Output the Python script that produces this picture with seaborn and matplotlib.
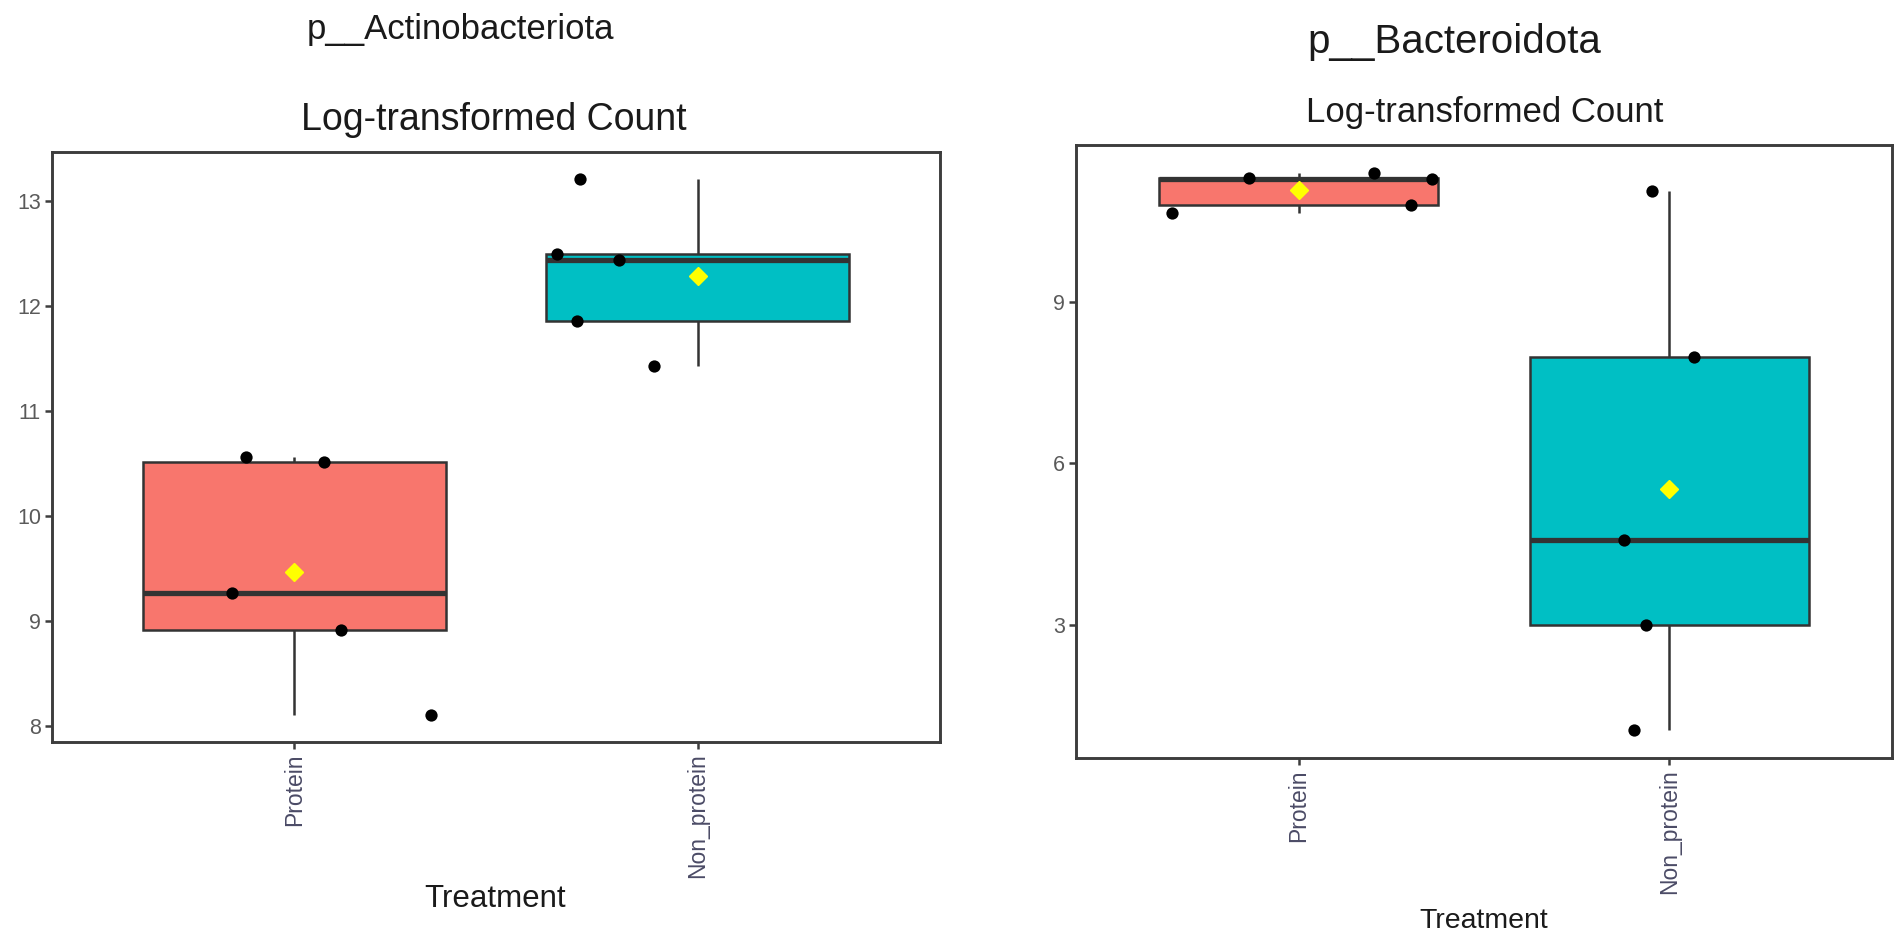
import numpy as np
import pandas as pd
import matplotlib
matplotlib.use("Agg")
import matplotlib.pyplot as plt
import seaborn as sns

# ---------------- data ----------------
categories = ["Protein", "Non_protein"]
box_colors = ["#F8766D", "#00BFC4"]

actino_protein = [10.56, 10.51, 9.26, 8.91, 8.10]
actino_nonprotein = [13.21, 12.49, 12.44, 11.86, 11.43]
bactero_protein = [10.66, 11.31, 11.40, 11.28, 10.80]
bactero_nonprotein = [11.06, 7.98, 4.58, 3.00, 1.04]

# jitter offsets (in category units)
actino_jitter_protein = [-0.12, 0.075, -0.154, 0.115, 0.34]
actino_jitter_nonprotein = [-0.292, -0.348, -0.195, -0.30, -0.109]
bactero_jitter_protein = [-0.34, -0.134, 0.204, 0.359, 0.303]
bactero_jitter_nonprotein = [-0.046, 0.065, -0.122, -0.064, -0.096]

actino_yticks = [8, 9, 10, 11, 12, 13]
bactero_yticks = [3, 6, 9]

panel_titles = ["p__Actinobacteriota", "p__Bacteroidota"]
subtitle = "Log-transformed Count"
xlabel = "Treatment"

# ---------------- style ----------------
sns.set_theme(style="white")
plt.rcParams["font.family"] = ["Liberation Sans", "DejaVu Sans"]

W, H = 1902, 936
fig = plt.figure(figsize=(W / 100, H / 100), dpi=100)
fig.patch.set_facecolor("white")


def px_axes(x0, x1, y0, y1):
    return fig.add_axes([x0 / W, 1 - y1 / H, (x1 - x0) / W, (y1 - y0) / H])


def make_df(prot, nonprot, jp, jn):
    vals = list(prot) + list(nonprot)
    treat = [categories[0]] * len(prot) + [categories[1]] * len(nonprot)
    pos = [categories.index(t) for t in treat]
    jit = list(jp) + list(jn)
    df = pd.DataFrame({"Treatment": treat, "pos": pos, "value": vals})
    df["xj"] = df["pos"] + np.array(jit)
    return df


def draw_panel(ax, df, yticks):
    sns.boxplot(
        data=df, x="pos", y="value", hue="Treatment", hue_order=categories,
        palette=box_colors, native_scale=True, dodge=False, width=0.75,
        whis=(0, 100), showcaps=False, showfliers=False, showmeans=True,
        saturation=1, linecolor="#333333", linewidth=1.8,
        meanprops=dict(marker="D", markerfacecolor="#FFFF00",
                       markeredgecolor="#FFFF00", markersize=9.5),
        medianprops=dict(linewidth=3.8, color="#333333"),
        legend=False, ax=ax,
    )
    sns.scatterplot(data=df, x="xj", y="value", color="black", s=78,
                    linewidth=0, legend=False, ax=ax, zorder=5)
    ax.set_xlim(-0.6, 1.6)
    lo, hi = df["value"].min(), df["value"].max()
    r = hi - lo
    ax.set_ylim(lo - 0.05 * r, hi + 0.05 * r)
    ax.set_xticks(range(len(categories)))
    ax.set_xticklabels(categories, rotation=90, fontsize=16.5, color="#4b4b66",
                       va="top", ha="center")
    ax.set_yticks(yticks)
    ax.set_yticklabels([str(t) for t in yticks], fontsize=15.5, color="#5a5a5a")
    ax.set_xlabel("")
    ax.set_ylabel("")
    for s in ax.spines.values():
        s.set_visible(True)
        s.set_color("#3d3d3d")
        s.set_linewidth(2.1)
    ax.tick_params(axis="both", direction="out", length=5, width=1.8,
                   color="#3d3d3d", pad=3, bottom=True, left=True)
    ax.grid(False)


ax1 = px_axes(52, 940, 152, 742)
draw_panel(ax1, make_df(actino_protein, actino_nonprotein,
                        actino_jitter_protein, actino_jitter_nonprotein),
           actino_yticks)

ax2 = px_axes(1076, 1892, 145, 758)
draw_panel(ax2, make_df(bactero_protein, bactero_nonprotein,
                        bactero_jitter_protein, bactero_jitter_nonprotein),
           bactero_yticks)


def ftext(x, y, s, size, color="#1a1a1a"):
    fig.text(x / W, 1 - y / H, s, ha="center", va="baseline",
             fontsize=size, color=color)


ftext(460, 39, panel_titles[0], 25)
ftext(494, 130, subtitle, 27)
ftext(495, 907, xlabel, 22.5)

ftext(1454, 53, panel_titles[1], 29)
ftext(1485, 122, subtitle, 25)
ftext(1484, 928, xlabel, 20.5)

fig.savefig("out.png", dpi=100, facecolor="white")
